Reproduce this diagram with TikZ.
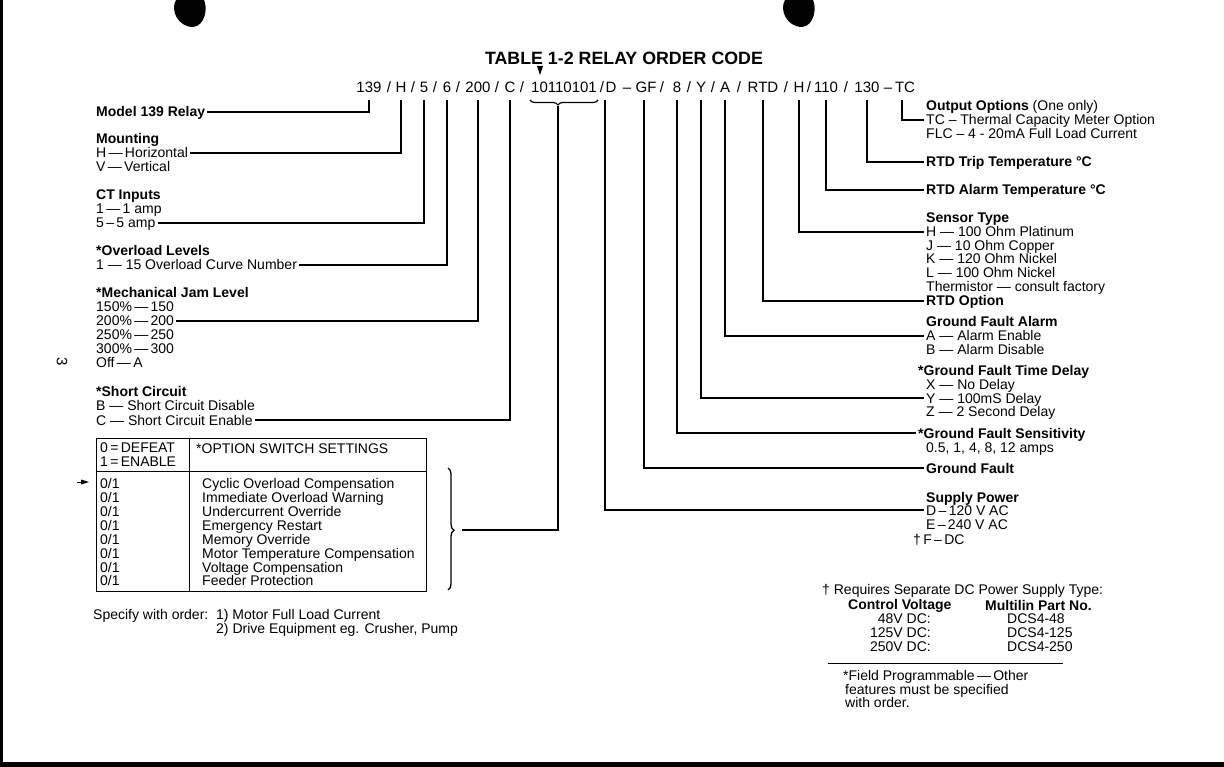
\documentclass[tikz,border=0pt]{standalone}
\usepackage{fontspec}
\setmainfont{Liberation Sans}
\usetikzlibrary{decorations.pathreplacing}

\begin{document}
\begin{tikzpicture}[x=1pt,y=-1pt]
	\tikzstyle{every node}=[font=\fontsize{14pt}{13.9pt}\selectfont]
	\tikzstyle{lbl}=[anchor=west, inner xsep=2pt, inner ysep=0pt, text height=10pt, text depth=0pt]
	\tikzstyle{code}=[inner sep=0pt, text height=11pt, text depth=0pt, font=\fontsize{15pt}{15pt}\selectfont]
	\tikzstyle{lead}=[line width=1.2pt]
	\useasboundingbox (0,0) rectangle (1224,767);
	
	\fill (0,0) rectangle (3,767);
	\fill (0,762) rectangle (1224,767);
	\fill (176,0) .. controls (170,10) and (178,27) .. (193,27) .. controls (205,26) and (208,8) .. (204,0) -- cycle;
	\fill (785,0) .. controls (779,10) and (787,27) .. (802,27) .. controls (814,26) and (817,8) .. (813,0) -- cycle;
	\node (pageno) [rotate=-90, font=\fontsize{15pt}{15pt}\selectfont] at (62,362) {3};
	
	\node (title) [font=\fontsize{17.8pt}{18pt}\selectfont\bfseries] at (624,58) {TABLE 1-2 RELAY ORDER CODE};
	\fill (537,66) -- (543,66) -- (540,75) -- cycle;
	
	\node[code] (c139) at (369,87) {139};
	\node[code] (s1) at (389,87) {/};
	\node[code] (cH) at (401,87) {H};
	\node[code] (s2) at (413,87) {/};
	\node[code] (c5) at (424,87) {5};
	\node[code] (s3) at (435,87) {/};
	\node[code] (c6) at (447,87) {6};
	\node[code] (s4) at (458,87) {/};
	\node[code] (c200) at (478,87) {200};
	\node[code] (s5) at (497,87) {/};
	\node[code] (cC) at (510,87) {C};
	\node[code] (s6) at (522,87) {/};
	\node[code] (cSw) at (564,87) {10110101};
	\node[code] (s7) at (602,87) {/};
	\node[code] (cD) at (611,87) {D};
	\node[code] (d1) at (627,87) {–};
	\node[code] (cGF) at (646,87) {GF};
	\node[code] (s8) at (662,87) {/};
	\node[code] (c8) at (677,87) {8};
	\node[code] (s9) at (689,87) {/};
	\node[code] (cY) at (701,87) {Y};
	\node[code] (s10) at (713,87) {/};
	\node[code] (cA) at (725,87) {A};
	\node[code] (s11) at (739,87) {/};
	\node[code] (cRTD) at (763,87) {RTD};
	\node[code] (s12) at (786,87) {/};
	\node[code] (cHb) at (799,87) {H};
	\node[code] (s13) at (809,87) {/};
	\node[code] (c110) at (826,87) {110};
	\node[code] (s14) at (846,87) {/};
	\node[code] (c130) at (867,87) {130};
	\node[code] (d2) at (888,87) {–};
	\node[code] (cTC) at (905,87) {TC};
	
	\draw [decorate, decoration={brace, mirror, amplitude=5pt, aspect=0.41}, line width=1.2pt] (530,100) -- (598,100);
	\coordinate (swtip) at (558,106);
	
	\node[lbl] (lModel) at (94,112) {\bfseries Model 139 Relay};
	\node[lbl] (lMount) at (94,139) {\bfseries Mounting};
	\node[lbl] (lMountH) at (94,153) {H\,—\,Horizontal};
	\node[lbl] (lMountV) at (94,167) {V\,—\,Vertical};
	\node[lbl] (lCT) at (94,195) {\bfseries CT Inputs};
	\node[lbl] (lCT1) at (94,209) {1\,—\,1 amp};
	\node[lbl] (lCT5) at (94,223) {5\,–\,5 amp};
	\node[lbl] (lOvl) at (94,251) {\bfseries *Overload Levels};
	\node[lbl] (lOvlC) at (94,265) {1 — 15 Overload Curve Number};
	\node[lbl] (lJam) at (94,293) {\bfseries *Mechanical Jam Level};
	\node[lbl] (lJam150) at (94,307) {150\%\,—\,150};
	\node[lbl] (lJam200) at (94,321) {200\%\,—\,200};
	\node[lbl] (lJam250) at (94,335) {250\%\,—\,250};
	\node[lbl] (lJam300) at (94,349) {300\%\,—\,300};
	\node[lbl] (lJamOff) at (94,363) {Off\,—\,A};
	\node[lbl] (lSC) at (94,391) {\bfseries *Short Circuit};
	\node[lbl] (lSCB) at (94,405) {B — Short Circuit Disable};
	\node[lbl] (lSCC) at (94,420) {C — Short Circuit Enable};
	
	\draw[lead] (lModel.east) -| ([yshift=-7pt]c139.south);
	\draw[lead] (lMountH.east) -| ([yshift=-7pt]cH.south);
	\draw[lead] (lCT5.east) -| ([yshift=-7pt]c5.south);
	\draw[lead] (lOvlC.east) -| ([yshift=-7pt]c6.south);
	\draw[lead] (lJam200.east) -| ([yshift=-7pt]c200.south);
	\draw[lead] (lSCC.east) -| ([yshift=-7pt]cC.south);
	
	\draw (96,438) rectangle (426,591);
	\draw (96,471) -- (426,471);
	\draw (189,438) -- (189,591);
	\node[lbl] (tDef) at (98,447) {0\,=\,DEFEAT};
	\node[lbl] (tEna) at (98,461) {1\,=\,ENABLE};
	\node[lbl] (tHead) at (194,448) {*OPTION SWITCH SETTINGS};
	\fill (81,479.5) -- (89,482) -- (81,484.5) -- cycle;
	\draw (77,482) -- (82,482);
	\node[lbl] (t1a) at (98,483) {0/1};
	\node[lbl] (t1b) at (200,483) {Cyclic Overload Compensation};
	\node[lbl] (t2a) at (98,497) {0/1};
	\node[lbl] (t2b) at (200,497) {Immediate Overload Warning};
	\node[lbl] (t3a) at (98,511) {0/1};
	\node[lbl] (t3b) at (200,511) {Undercurrent Override};
	\node[lbl] (t4a) at (98,525) {0/1};
	\node[lbl] (t4b) at (200,525) {Emergency Restart};
	\node[lbl] (t5a) at (98,539) {0/1};
	\node[lbl] (t5b) at (200,539) {Memory Override};
	\node[lbl] (t6a) at (98,553) {0/1};
	\node[lbl] (t6b) at (200,553) {Motor Temperature Compensation};
	\node[lbl] (t7a) at (98,567) {0/1};
	\node[lbl] (t7b) at (200,567) {Voltage Compensation};
	\node[lbl] (t8a) at (98,580) {0/1};
	\node[lbl] (t8b) at (200,580) {Feeder Protection};
	
	\draw [decorate, decoration={brace, amplitude=6pt, aspect=0.51}, line width=1.3pt] (448,468) -- (448,590);
	\coordinate (tbltip) at (462,530);
	\draw[lead] (swtip) |- (tbltip);
	
	\node[lbl] (spec1) at (91,614) {Specify with order:\ \ 1) Motor Full Load Current};
	\node[lbl] (spec2) at (214,628) {2) Drive Equipment eg. Crusher, Pump};
	
	\node[lbl] (rOut) at (924,106) {\textbf{Output Options} (One only)};
	\node[lbl] (rTC) at (924,120) {TC – Thermal Capacity Meter Option};
	\node[lbl] (rFLC) at (924,134) {FLC – 4 - 20mA Full Load Current};
	\node[lbl] (rTrip) at (924,162) {\bfseries RTD Trip Temperature °C};
	\node[lbl] (rAlarm) at (924,190) {\bfseries RTD Alarm Temperature °C};
	\node[lbl] (rSens) at (924,218) {\bfseries Sensor Type};
	\node[lbl] (rSensH) at (924,232) {H — 100 Ohm Platinum};
	\node[lbl] (rSensJ) at (924,246) {J — 10 Ohm Copper};
	\node[lbl] (rSensK) at (924,259) {K — 120 Ohm Nickel};
	\node[lbl] (rSensL) at (924,273) {L — 100 Ohm Nickel};
	\node[lbl] (rSensT) at (924,287) {Thermistor — consult factory};
	\node[lbl] (rOpt) at (924,301) {\bfseries RTD Option};
	\node[lbl] (rGFA) at (924,322) {\bfseries Ground Fault Alarm};
	\node[lbl] (rGFAa) at (924,336) {A — Alarm Enable};
	\node[lbl] (rGFAb) at (924,350) {B — Alarm Disable};
	\node[lbl] (rGFT) at (916,370) {\bfseries *Ground Fault Time Delay};
	\node[lbl] (rGFTx) at (924,384) {X — No Delay};
	\node[lbl] (rGFTy) at (924,398) {Y — 100mS Delay};
	\node[lbl] (rGFTz) at (924,412) {Z — 2 Second Delay};
	\node[lbl] (rGFS) at (916,433) {\bfseries *Ground Fault Sensitivity};
	\node[lbl] (rGFSv) at (924,447) {0.5, 1, 4, 8, 12 amps};
	\node[lbl] (rGF) at (924,468) {\bfseries Ground Fault};
	\node[lbl] (rSup) at (924,497) {\bfseries Supply Power};
	\node[lbl] (rSupD) at (924,510) {D\,–\,120 V AC};
	\node[lbl] (rSupE) at (924,524) {E\,–\,240 V AC};
	\node[lbl] (rSupF) at (911,539) {†\,F\,–\,DC};
	
	\draw[lead] ([xshift=-3pt,yshift=-7pt]cTC.south) |- (rTC.west);
	\draw[lead] ([yshift=-7pt]c130.south) |- (rTrip.west);
	\draw[lead] ([yshift=-7pt]c110.south) |- (rAlarm.west);
	\draw[lead] ([yshift=-7pt]cHb.south) |- (rSensH.west);
	\draw[lead] ([yshift=-7pt]cRTD.south) |- (rOpt.west);
	\draw[lead] ([yshift=-7pt]cA.south) |- (rGFAa.west);
	\draw[lead] ([yshift=-7pt]cY.south) |- (rGFTy.west);
	\draw[lead] ([yshift=-7pt]c8.south) |- (rGFS.west);
	\draw[lead] ([xshift=-2pt,yshift=-7pt]cGF.south) |- (rGF.west);
	\draw[lead] ([xshift=-6pt,yshift=-7pt]cD.south) |- (rSupD.west);
	
	\node[lbl] (nReq) at (820,589) {† Requires Separate DC Power Supply Type:};
	\node[lbl] (nCV) at (846,604) {\bfseries Control Voltage};
	\node[lbl] (nMP) at (983,605) {\bfseries Multilin Part No.};
	\node[lbl, anchor=east] (nV48) at (933,618) {48V DC:};
	\node[lbl, anchor=east] (nV125) at (933,632) {125V DC:};
	\node[lbl, anchor=east] (nV250) at (933,646) {250V DC:};
	\node[lbl] (nP48) at (1005,618) {DCS4-48};
	\node[lbl] (nP125) at (1005,632) {DCS4-125};
	\node[lbl] (nP250) at (1005,646) {DCS4-250};
	\draw (828,663) -- (1063,663);
	\node[lbl] (nFld1) at (841,675) {*Field Programmable\,—\,Other};
	\node[lbl] (nFld2) at (843,689) {features must be specified};
	\node[lbl] (nFld3) at (843,702) {with order.};
\end{tikzpicture}
\end{document}
